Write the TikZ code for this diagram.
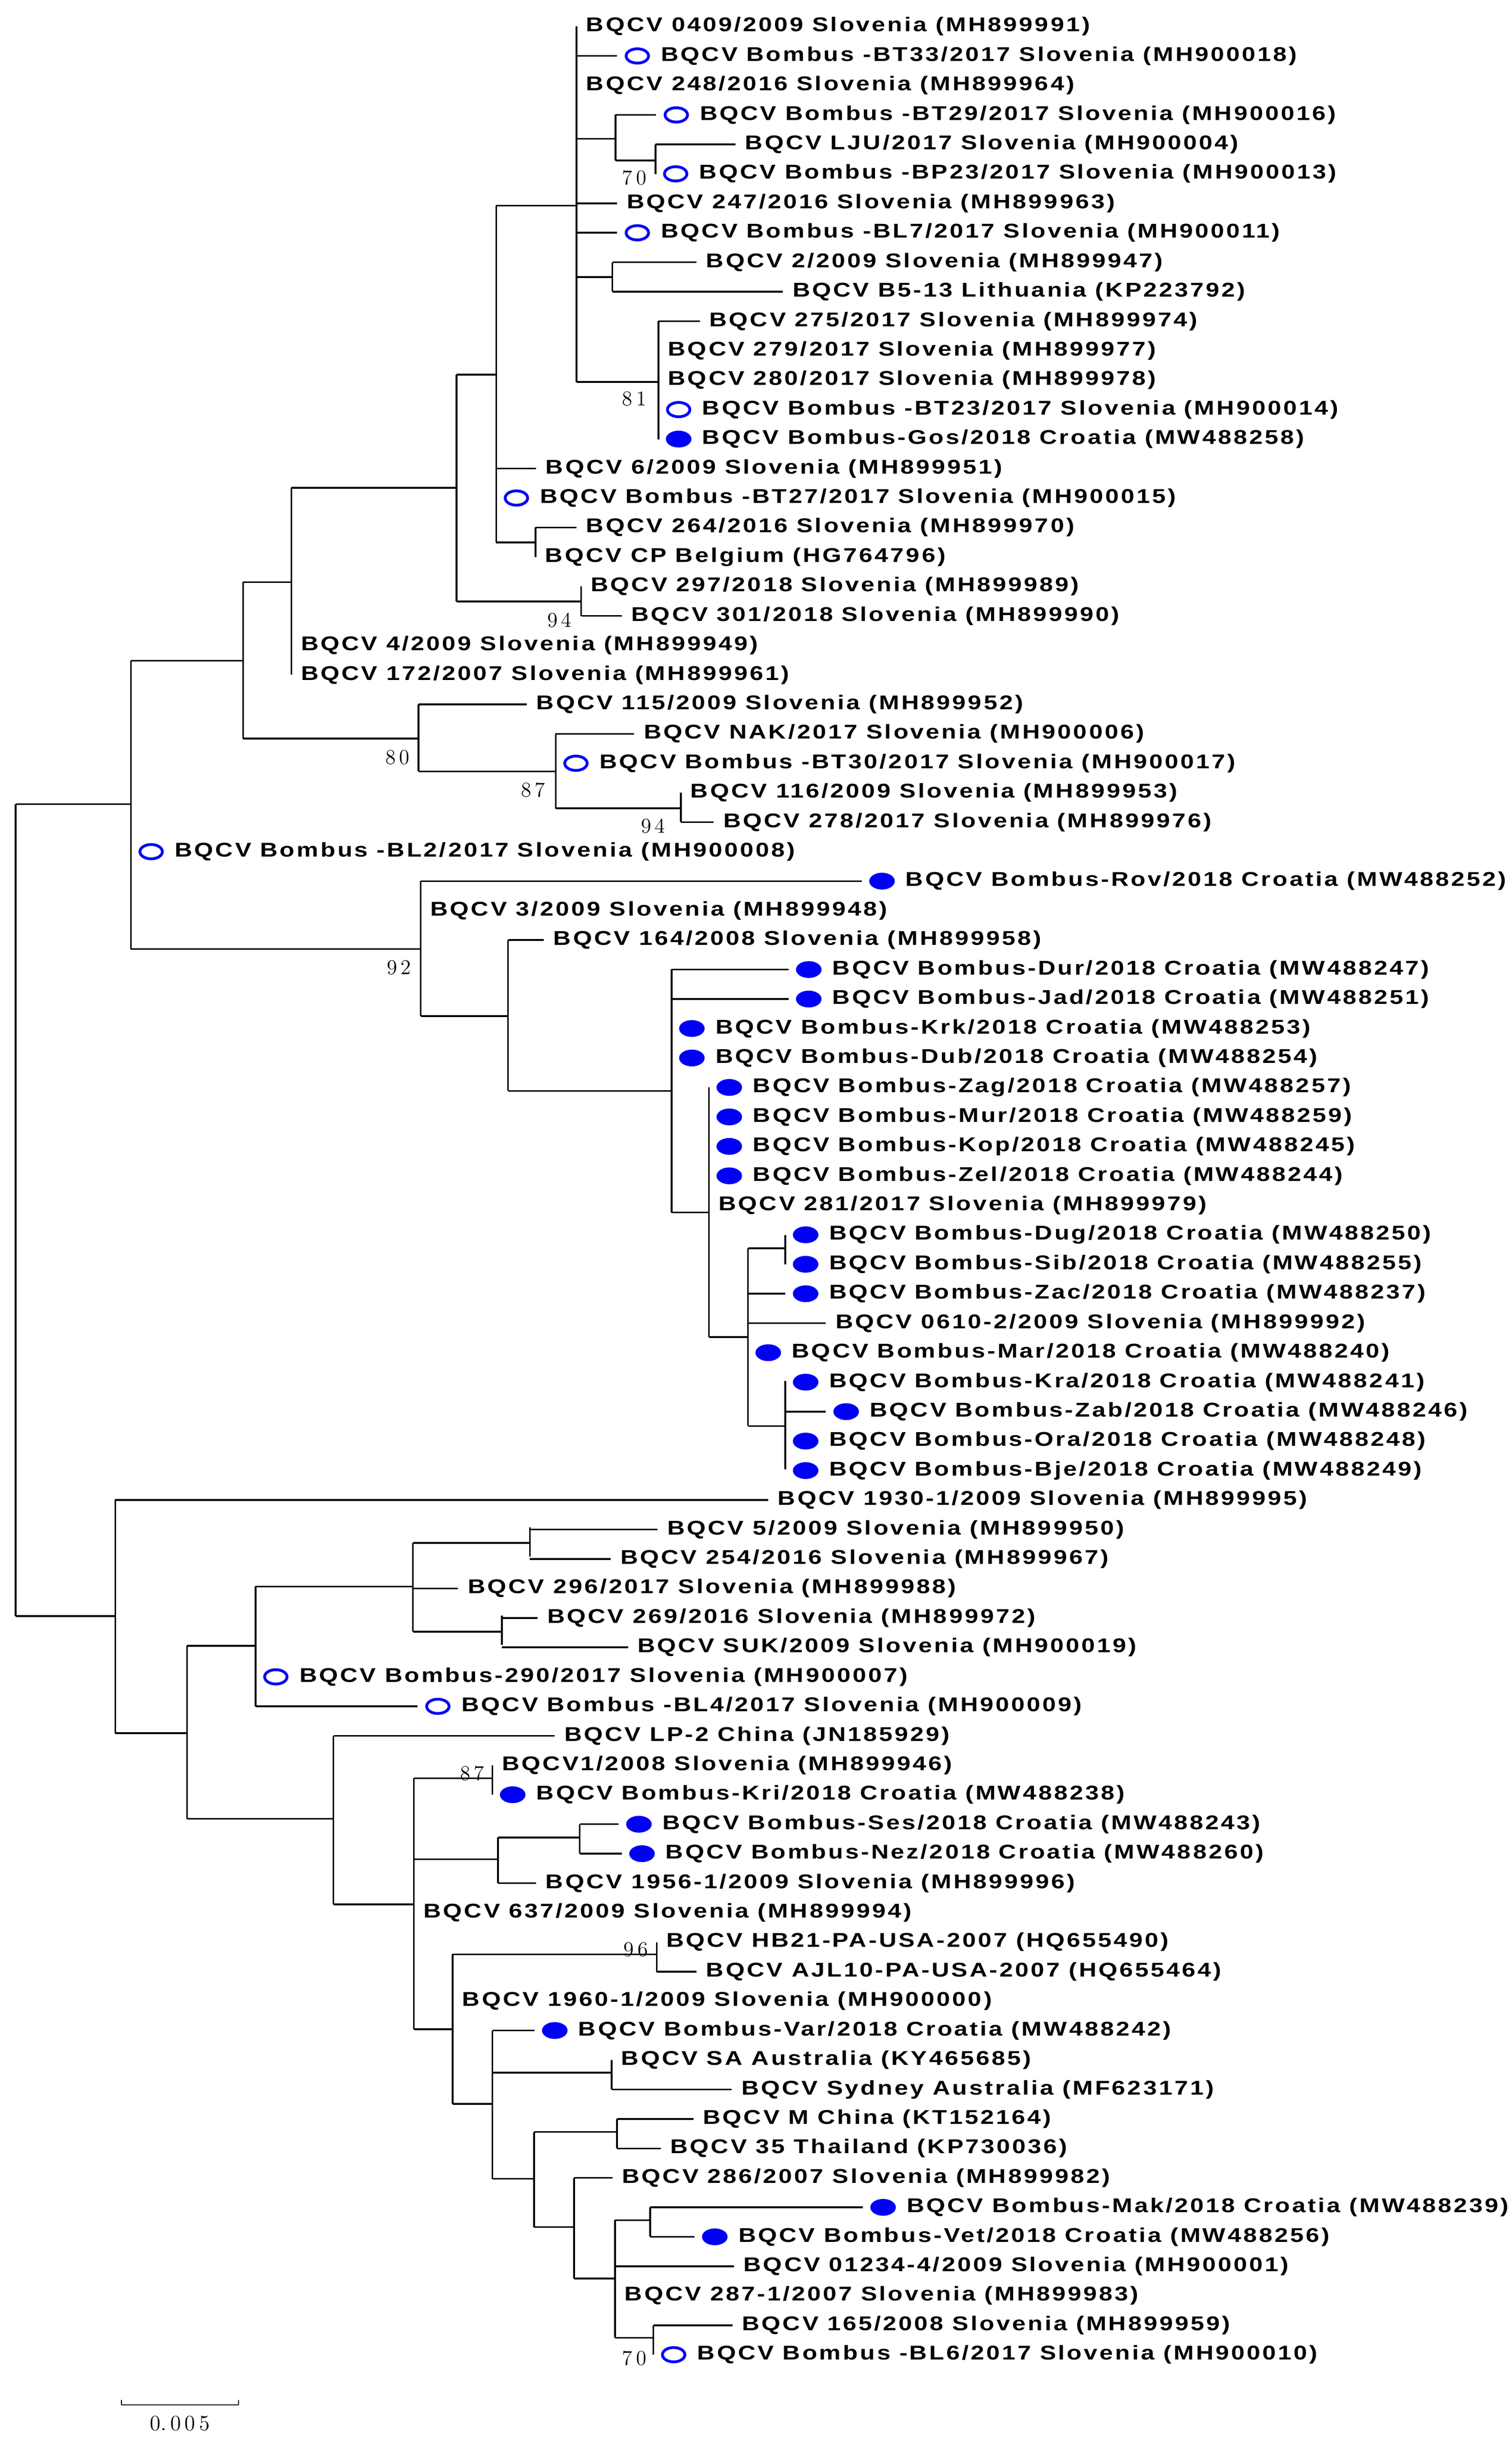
\documentclass[tikz,border=0pt]{standalone}
\usepackage{fontspec}
\newfontfamily\lfont{Liberation Sans Bold}[FakeStretch=1.22,LetterSpace=10.5]
\definecolor{mk}{RGB}{0,0,245}
\tikzset{
 br/.style={line width=1.1pt},
 leaf/.style={anchor=west,inner sep=0pt,font=\lfont\fontsize{12.8}{13}\selectfont},
 sup/.style={anchor=east,inner sep=0pt,font=\fontsize{13.5}{13.5}\selectfont},
}
\newcommand\ry[1]{{17+(#1-1)*18.91}}
\newcommand\LT[4]{\draw[br] (#2,\ry{#1}) -- (#3,\ry{#1}) coordinate (t#1);
 \node[leaf] (n#1) at ({#3+6},\ry{#1}) {#4};}
\newcommand\LO[4]{\draw[br] (#2,\ry{#1}) -- (#3,\ry{#1}) coordinate (t#1);
 \draw[mk,line width=1.8pt] ({#3+13},\ry{#1}) ellipse (7.2 and 4.6);
 \node[leaf] (n#1) at ({#3+28},\ry{#1}) {#4};}
\newcommand\LF[4]{\draw[br] (#2,\ry{#1}) -- (#3,\ry{#1}) coordinate (t#1);
 \fill[mk] ({#3+13},\ry{#1}) ellipse (8.2 and 5.4);
 \node[leaf] (n#1) at ({#3+28},\ry{#1}) {#4};}
\newcommand\IN[6]{\draw[br] (#2,#3) coordinate (#1a) -- (#2,#4) coordinate (#1b);
 \draw[br] (#5,#6) -- (#2,#6) coordinate (#1);}
\begin{document}
\begin{tikzpicture}[x=1pt,y=-1pt]
\useasboundingbox (0,0) rectangle (970,1565);
\fill[white] (0,0) rectangle (970,1565);
% root
\draw[br] (10,516) coordinate (rta) -- (10,1037) coordinate (rtb);
\IN{A}{84}{424}{609}{10}{516}
\IN{W}{74}{962.3}{1112}{10}{1037}
\IN{B}{156}{373.5}{473.8}{84}{424}
\IN{C}{187}{313}{433}{156}{373.5}
\IN{E}{293}{240.4}{386}{187}{313}
\IN{F}{318.4}{132}{348}{293}{240.4}
\IN{H}{370}{17}{245}{318.4}{132}
\IN{J}{395}{73.7}{103}{370}{89}
\IN{M}{420.6}{92.6}{111.6}{395}{103}
\IN{K}{393}{168.3}{187.2}{370}{177.8}
\IN{L}{422.5}{206}{282}{370}{245}
\IN{I}{343.7}{338.5}{357.4}{318.4}{348}
\IN{G}{373}{376.3}{395.2}{293}{386}
\IN{D}{268.6}{451.9}{495}{156}{473.8}
\IN{N}{356.6}{470.8}{518.6}{268.6}{495}
\IN{O}{437}{508.6}{527.5}{356.6}{518.6}
\IN{P}{270}{565.4}{652}{84}{609}
\IN{Q}{326}{603.2}{700}{270}{652}
\IN{R}{431}{622}{778}{326}{700}
\IN{S}{455}{697.8}{858}{431}{778}
\IN{T}{480}{801}{915}{455}{858}
\IN{U}{504}{792.5}{811.4}{480}{801}
\IN{V}{504}{886.1}{942.8}{480}{915}
\IN{X}{120}{1056}{1167}{74}{1112}
\IN{Y}{164}{1018}{1094.9}{120}{1056}
\IN{Ya}{265}{990}{1047}{164}{1018}
\IN{Yb}{340}{979.9}{998.8}{265}{990}
\IN{Yc}{322}{1036.6}{1055.5}{265}{1047}
\IN{Z}{214}{1113.8}{1222}{120}{1167}
\IN{Za}{265.6}{1141}{1302}{214}{1222}
\IN{Zb}{316}{1132.7}{1151.6}{265.6}{1141}
\IN{Zc}{319.6}{1179}{1208.3}{265.6}{1193}
\IN{Zd}{372}{1170.5}{1189.4}{319.6}{1179}
\IN{Ze}{290.5}{1254}{1350}{265.6}{1302}
\IN{Zf}{421.4}{1246.2}{1265.1}{290.5}{1254}
\IN{Zg}{316}{1302.9}{1398}{290.5}{1350}
\IN{Zh}{392.5}{1321.8}{1340.7}{316}{1330}
\IN{Zi}{342.7}{1368}{1429}{316}{1398}
\IN{Zj}{396}{1359.6}{1378.5}{342.7}{1368}
\IN{Zk}{368.4}{1397.4}{1462}{342.7}{1429}
\IN{Zl}{394.7}{1424.6}{1500}{368.4}{1462}
\IN{Zm}{417.3}{1416.3}{1435.2}{394.7}{1424.6}
\IN{Zn}{419.3}{1491.9}{1510.8}{394.7}{1500}
% leaves
\LT{1}{370}{370}{BQCV 0409/2009 Slovenia (MH899991)}
\LO{2}{370}{396}{BQCV Bombus -BT33/2017 Slovenia (MH900018)}
\LT{3}{370}{370}{BQCV 248/2016 Slovenia (MH899964)}
\LO{4}{395}{421}{BQCV Bombus -BT29/2017 Slovenia (MH900016)}
\LT{5}{420.6}{472}{BQCV LJU/2017 Slovenia (MH900004)}
\LO{6}{420.6}{420.6}{BQCV Bombus -BP23/2017 Slovenia (MH900013)}
\LT{7}{370}{396}{BQCV 247/2016 Slovenia (MH899963)}
\LO{8}{370}{396}{BQCV Bombus -BL7/2017 Slovenia (MH900011)}
\LT{9}{393}{447}{BQCV 2/2009 Slovenia (MH899947)}
\LT{10}{393}{502.5}{BQCV B5-13 Lithuania (KP223792)}
\LT{11}{422.5}{449}{BQCV 275/2017 Slovenia (MH899974)}
\LT{12}{422.5}{422.5}{BQCV 279/2017 Slovenia (MH899977)}
\LT{13}{422.5}{422.5}{BQCV 280/2017 Slovenia (MH899978)}
\LO{14}{422.5}{422.5}{BQCV Bombus -BT23/2017 Slovenia (MH900014)}
\LF{15}{422.5}{422.5}{BQCV Bombus-Gos/2018 Croatia (MW488258)}
\LT{16}{318.4}{344}{BQCV 6/2009 Slovenia (MH899951)}
\LO{17}{318.4}{318.4}{BQCV Bombus -BT27/2017 Slovenia (MH900015)}
\LT{18}{343.7}{370}{BQCV 264/2016 Slovenia (MH899970)}
\LT{19}{343.7}{343.7}{BQCV CP Belgium (HG764796)}
\LT{20}{373}{373}{BQCV 297/2018 Slovenia (MH899989)}
\LT{21}{373}{399}{BQCV 301/2018 Slovenia (MH899990)}
\LT{22}{187}{187}{BQCV 4/2009 Slovenia (MH899949)}
\LT{23}{187}{187}{BQCV 172/2007 Slovenia (MH899961)}
\LT{24}{268.6}{338}{BQCV 115/2009 Slovenia (MH899952)}
\LT{25}{356.6}{407}{BQCV NAK/2017 Slovenia (MH900006)}
\LO{26}{356.6}{356.6}{BQCV Bombus -BT30/2017 Slovenia (MH900017)}
\LT{27}{437}{437}{BQCV 116/2009 Slovenia (MH899953)}
\LT{28}{437}{458}{BQCV 278/2017 Slovenia (MH899976)}
\LO{29}{84}{84}{BQCV Bombus -BL2/2017 Slovenia (MH900008)}
\LF{30}{270}{553}{BQCV Bombus-Rov/2018 Croatia (MW488252)}
\LT{31}{270}{270}{BQCV 3/2009 Slovenia (MH899948)}
\LT{32}{326}{349}{BQCV 164/2008 Slovenia (MH899958)}
\LF{33}{431}{506}{BQCV Bombus-Dur/2018 Croatia (MW488247)}
\LF{34}{431}{506}{BQCV Bombus-Jad/2018 Croatia (MW488251)}
\LF{35}{431}{431}{BQCV Bombus-Krk/2018 Croatia (MW488253)}
\LF{36}{431}{431}{BQCV Bombus-Dub/2018 Croatia (MW488254)}
\LF{37}{455}{455}{BQCV Bombus-Zag/2018 Croatia (MW488257)}
\LF{38}{455}{455}{BQCV Bombus-Mur/2018 Croatia (MW488259)}
\LF{39}{455}{455}{BQCV Bombus-Kop/2018 Croatia (MW488245)}
\LF{40}{455}{455}{BQCV Bombus-Zel/2018 Croatia (MW488244)}
\LT{41}{455}{455}{BQCV 281/2017 Slovenia (MH899979)}
\LF{42}{504}{504}{BQCV Bombus-Dug/2018 Croatia (MW488250)}
\LF{43}{504}{504}{BQCV Bombus-Sib/2018 Croatia (MW488255)}
\LF{44}{480}{504}{BQCV Bombus-Zac/2018 Croatia (MW488237)}
\LT{45}{480}{530}{BQCV 0610-2/2009 Slovenia (MH899992)}
\LF{46}{480}{480}{BQCV Bombus-Mar/2018 Croatia (MW488240)}
\LF{47}{504}{504}{BQCV Bombus-Kra/2018 Croatia (MW488241)}
\LF{48}{504}{530}{BQCV Bombus-Zab/2018 Croatia (MW488246)}
\LF{49}{504}{504}{BQCV Bombus-Ora/2018 Croatia (MW488248)}
\LF{50}{504}{504}{BQCV Bombus-Bje/2018 Croatia (MW488249)}
\LT{51}{74}{493}{BQCV 1930-1/2009 Slovenia (MH899995)}
\LT{52}{340}{422}{BQCV 5/2009 Slovenia (MH899950)}
\LT{53}{340}{392}{BQCV 254/2016 Slovenia (MH899967)}
\LT{54}{265}{294}{BQCV 296/2017 Slovenia (MH899988)}
\LT{55}{322}{345}{BQCV 269/2016 Slovenia (MH899972)}
\LT{56}{322}{403}{BQCV SUK/2009 Slovenia (MH900019)}
\LO{57}{164}{164}{BQCV Bombus-290/2017 Slovenia (MH900007)}
\LO{58}{164}{268}{BQCV Bombus -BL4/2017 Slovenia (MH900009)}
\LT{59}{214}{356}{BQCV LP-2 China (JN185929)}
\LT{60}{316}{316}{BQCV1/2008 Slovenia (MH899946)}
\LF{61}{316}{316}{BQCV Bombus-Kri/2018 Croatia (MW488238)}
\LF{62}{372}{397}{BQCV Bombus-Ses/2018 Croatia (MW488243)}
\LF{63}{372}{399}{BQCV Bombus-Nez/2018 Croatia (MW488260)}
\LT{64}{319.6}{344}{BQCV 1956-1/2009 Slovenia (MH899996)}
\LT{65}{265.6}{265.6}{BQCV 637/2009 Slovenia (MH899994)}
\LT{66}{421.4}{421.4}{BQCV HB21-PA-USA-2007 (HQ655490)}
\LT{67}{421.4}{447}{BQCV AJL10-PA-USA-2007 (HQ655464)}
\LT{68}{290.5}{290.5}{BQCV 1960-1/2009 Slovenia (MH900000)}
\LF{69}{316}{343}{BQCV Bombus-Var/2018 Croatia (MW488242)}
\LT{70}{392.5}{392.5}{BQCV SA Australia (KY465685)}
\LT{71}{392.5}{469.6}{BQCV Sydney Australia (MF623171)}
\LT{72}{396}{445}{BQCV M China (KT152164)}
\LT{73}{396}{424}{BQCV 35 Thailand (KP730036)}
\LT{74}{368.4}{393}{BQCV 286/2007 Slovenia (MH899982)}
\LF{75}{417.3}{553.7}{BQCV Bombus-Mak/2018 Croatia (MW488239)}
\LF{76}{417.3}{445.7}{BQCV Bombus-Vet/2018 Croatia (MW488256)}
\LT{77}{394.7}{471}{BQCV 01234-4/2009 Slovenia (MH900001)}
\LT{78}{394.7}{394.7}{BQCV 287-1/2007 Slovenia (MH899983)}
\LT{79}{419.3}{470}{BQCV 165/2008 Slovenia (MH899959)}
\LO{80}{419.3}{419.3}{BQCV Bombus -BL6/2017 Slovenia (MH900010)}
% support values
\node[sup] (s1) at (415,114) {7\,0};
\node[sup] (s2) at (415,256) {8\,1};
\node[sup] (s3) at (367,398) {9\,4};
\node[sup] (s4) at (263,486) {8\,0};
\node[sup] (s5) at (350,507) {8\,7};
\node[sup] (s6) at (427,530) {9\,4};
\node[sup] (s7) at (264,621) {9\,2};
\node[sup] (s8) at (311,1138) {8\,7};
\node[sup] (s9) at (416,1251) {9\,6};
\node[sup] (s10) at (415,1513) {7\,0};
% scale bar
\draw[line width=0.6pt] (78,1543) coordinate (sba) -- (153,1543) coordinate (sbb);
\draw[line width=0.6pt] (sba) -- ++(0,-3) (sbb) -- ++(0,-3);
\node[font=\fontsize{14}{14}\selectfont,inner sep=0pt] (sbl) at (115.5,1555) {0.\,0\,0\,5};
\end{tikzpicture}
\end{document}
